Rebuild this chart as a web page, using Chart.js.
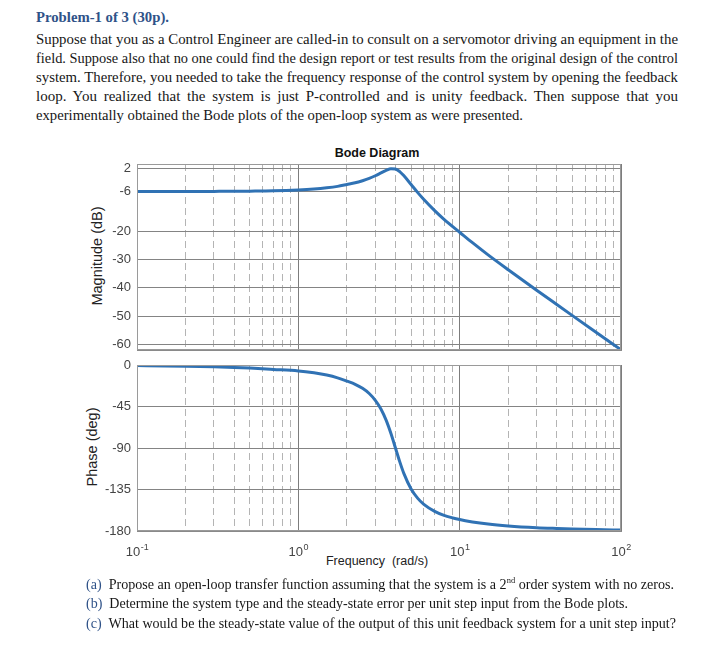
<!DOCTYPE html>
<html>
<head>
<meta charset="utf-8">
<script src="https://cdn.jsdelivr.net/npm/chart.js@4.4.1/dist/chart.umd.min.js"></script>
<style>
    body { margin: 0; background: #fff; width: 712px; height: 666px; overflow: hidden; position: relative; }
    .ln { position: absolute; white-space: nowrap; font-family: "Liberation Serif", "Times New Roman", serif;
          font-size: 15px; line-height: 19px; color: #161616; transform-origin: 0 50%; }
    .blue { color: #2f5288; }
    .b { font-weight: bold; }
    .lbl { position: absolute; white-space: nowrap; font-family: "Liberation Sans", Arial, sans-serif; color: #222;
           transform: translate(-50%, -50%); }
    .rot { transform: translate(-50%, -50%) rotate(-90deg); }
    canvas { position: absolute; left: 0; }
</style>
</head>
<body>
<div class="ln b blue" style="left:36px;top:7.5px" data-w="133">Problem-1 of 3 (30p).</div>
<div class="ln jf" style="left:36px;top:29.5px" data-w="642">Suppose that you as a Control Engineer are called-in to consult on a servomotor driving an equipment in the</div>
<div class="ln jf" style="left:36px;top:48.5px" data-w="642">field. Suppose also that no one could find the design report or test results from the original design of the control</div>
<div class="ln jf" style="left:36px;top:67.5px" data-w="642">system. Therefore, you needed to take the frequency response of the control system by opening the feedback</div>
<div class="ln jf" style="left:36px;top:86.5px" data-w="642">loop. You realized that the system is just P-controlled and is unity feedback. Then suppose that you</div>
<div class="ln" style="left:36px;top:106px" data-w="487">experimentally obtained the Bode plots of the open-loop system as were presented.</div>

<div class="lbl b" style="left:377px;top:153px;font-size:12.5px;color:#111">Bode Diagram</div>
<div class="lbl rot" style="left:97px;top:256px;font-size:14.5px">Magnitude (dB)</div>
<div class="lbl rot" style="left:92px;top:447px;font-size:14.5px">Phase (deg)</div>
<div class="lbl" style="left:377px;top:561px;font-size:12.5px;white-space:pre">Frequency  (rad/s)</div>

<canvas id="magChart" width="712" height="226" style="top:144px"></canvas>
<canvas id="phaseChart" width="712" height="225" style="top:345px"></canvas>

<div class="ln" style="left:86px;top:574.5px" data-w="588"><span class="blue">(a)</span>&nbsp; Propose an open-loop transfer function assuming that the system is a 2<sup style="font-size:9px;line-height:0">nd</sup> order system with no zeros.</div>
<div class="ln" style="left:86px;top:594px" data-w="542"><span class="blue">(b)</span>&nbsp; Determine the system type and the steady-state error per unit step input from the Bode plots.</div>
<div class="ln" style="left:86px;top:613.5px" data-w="590"><span class="blue">(c)</span>&nbsp; What would be the steady-state value of the output of this unit feedback system for a unit step input?</div>

<script>
// values
var freqs    = [0.1, 0.15, 0.2, 0.3, 0.4, 0.5, 0.7, 1, 1.25, 1.5, 1.75, 2, 2.25, 2.5, 2.75, 3, 3.25, 3.5, 3.75, 4,
                4.25, 4.5, 5, 5.5, 6, 7, 8, 10, 12, 15, 20, 30, 40, 50, 70, 100];
var magDb    = [-6.02, -6.01, -6.00, -5.97, -5.94, -5.89, -5.77, -5.45, -5.12, -4.70, -4.20, -3.55, -2.95, -2.20, -1.40, -0.45, 0.55, 1.45, 2.05, 1.94,
                1.03, -0.38, -3.55, -6.42, -8.86, -12.78, -15.86, -20.40, -24.10, -28.40, -33.65, -40.88, -45.94, -49.85, -55.72, -61.90];
var phaseDeg = [-0.66, -0.99, -1.32, -1.99, -2.66, -3.34, -4.75, -6.4, -8.5, -10.9, -13.9, -17.5, -20.9, -25.3, -30.9, -38.3, -47.7, -59.8, -74.3, -90,
                -104.8, -117.2, -134.4, -144.6, -151.1, -158.7, -163.0, -167.6, -170.2, -172.5, -174.5, -176.4, -177.3, -177.9, -178.5, -178.9];
var magTicks   = [2, -6, -20, -30, -40, -50, -60];
var phaseTicks = [0, -45, -90, -135, -180];
var freqGrid   = [0.1, 0.2, 0.3, 0.4, 0.5, 0.6, 0.7, 0.8, 0.9, 1, 2, 3, 4, 5, 6, 7, 8, 9, 10, 20, 30, 40, 50, 60, 70, 80, 90, 100];
var freqLabels = [[0.1, '-1'], [1, '0'], [10, '1'], [100, '2']];

var lineColor = '#3072b4';
var tickFont = { family: 'Liberation Sans', size: 13 };

function isDecade(v) {
    var l = Math.log10(v);
    return Math.abs(l - Math.round(l)) < 1e-6;
}

function xAxis(height) {
    return {
        type: 'logarithmic',
        min: 0.1,
        max: 100,
        afterBuildTicks: function (scale) {
            scale.ticks = freqGrid.map(function (v) { return { value: v }; });
        },
        afterFit: function (scale) { scale.height = height; },
        ticks: { display: false },
        grid: {
            drawTicks: false,
            lineWidth: 1,
            color: function (ctx) {
                if (!ctx.tick) return '#8a8a8a';
                return isDecade(ctx.tick.value) ? '#7d7d7d' : '#b4b4b4';
            }
        },
        border: {
            display: true,
            color: '#8a8a8a',
            dash: function (ctx) {
                if (!ctx.tick) return [];
                return isDecade(ctx.tick.value) ? [] : [7, 4];
            }
        }
    };
}

function yAxis(min, max, tickValues) {
    return {
        min: min,
        max: max,
        afterBuildTicks: function (scale) {
            scale.ticks = tickValues.map(function (v) { return { value: v }; });
        },
        afterFit: function (scale) { scale.width = 137; },
        ticks: { font: tickFont, color: '#444', padding: 6 },
        grid: { drawTicks: false, color: '#848484', lineWidth: 1 },
        border: { display: true, color: '#8a8a8a' }
    };
}

var frame = {
    id: 'frame',
    afterDraw: function (chart) {
        var a = chart.chartArea, ctx = chart.ctx;
        ctx.save();
        ctx.strokeStyle = '#9a9a9a';
        ctx.lineWidth = 1;
        ctx.strokeRect(Math.round(a.left) + 0.5, Math.round(a.top) + 0.5,
                       Math.round(a.right - a.left) - 1, Math.round(a.bottom - a.top) - 1);
        ctx.restore();
    }
};

var decadeLabels = {
    id: 'decadeLabels',
    afterDraw: function (chart) {
        var ctx = chart.ctx, xs = chart.scales.x;
        var y = chart.chartArea.bottom + 25;
        ctx.save();
        ctx.fillStyle = '#444';
        ctx.textBaseline = 'alphabetic';
        freqLabels.forEach(function (fl) {
            var px = xs.getPixelForValue(fl[0]);
            ctx.font = '13px "Liberation Sans"';
            var wb = ctx.measureText('10').width;
            ctx.font = '9px "Liberation Sans"';
            var we = ctx.measureText(fl[1]).width;
            var x0 = px - (wb + we) / 2;
            ctx.font = '13px "Liberation Sans"';
            ctx.fillText('10', x0, y);
            ctx.font = '9px "Liberation Sans"';
            ctx.fillText(fl[1], x0 + wb + 0.5, y - 6);
        });
        ctx.restore();
    }
};

function makeChart(id, values, yScale, padding, xHeight, extra) {
    return new Chart(document.getElementById(id), {
        type: 'line',
        data: {
            datasets: [{
                data: freqs.map(function (f, i) { return { x: f, y: values[i] }; }),
                borderColor: lineColor,
                borderWidth: 3,
                pointRadius: 0,
                cubicInterpolationMode: 'monotone',
                fill: false
            }]
        },
        options: {
            responsive: false,
            animation: false,
            layout: { padding: padding },
            plugins: { legend: { display: false }, tooltip: { enabled: false } },
            scales: { x: xAxis(xHeight), y: yScale }
        },
        plugins: extra
    });
}

// chart areas: magnitude 164..350, phase 365..531, x 137..621
makeChart('magChart', magDb, yAxis(-62, 3.7, magTicks),
          { top: 20, right: 91, bottom: 20, left: 0 }, 0, [frame]);
makeChart('phaseChart', phaseDeg, yAxis(-180, 0, phaseTicks),
          { top: 20, right: 91, bottom: 0, left: 0 }, 39, [frame, decadeLabels]);

// fit each text line to the width it has in the original page
document.querySelectorAll('.ln').forEach(function (el) {
    var w = +el.dataset.w;
    var natural = el.getBoundingClientRect().width;
    if (el.classList.contains('jf') && natural <= w - 0.5) {
        el.style.whiteSpace = 'normal';
        el.style.width = w + 'px';
        el.style.textAlign = 'justify';
        el.style.textAlignLast = 'justify';
    } else {
        el.style.transform = 'scaleX(' + (w / natural) + ')';
    }
});
</script>
</body>
</html>
